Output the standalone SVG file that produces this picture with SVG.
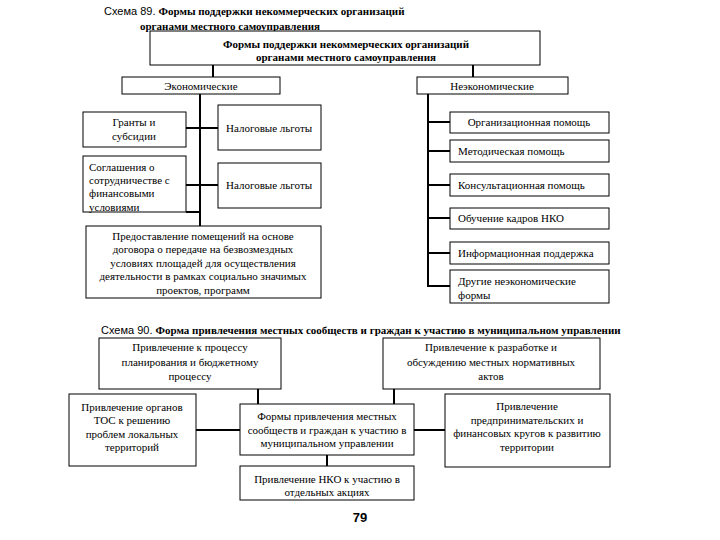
<svg xmlns="http://www.w3.org/2000/svg" width="720" height="540" viewBox="0 0 720 540">
<style>
.bg{fill:#fff}
.box{fill:#fff;stroke:#000;stroke-width:1}
.ln{stroke:#000;stroke-width:2;fill:none}
.t{font-family:"Liberation Serif","Times New Roman",serif;font-size:11px;fill:#000}
.c{text-anchor:middle}
.b{font-weight:bold}
.s{font-family:"Liberation Sans",Arial,sans-serif;font-size:11px;fill:#000}
</style>
<rect class="bg" x="0" y="0" width="720" height="540"/>

<g id="title89">
<text x="104" y="15"><tspan class="s">Схема 89. </tspan><tspan class="t b">Формы поддержки некоммерческих организаций</tspan></text>
<text class="t b" x="140" y="30">органами местного самоуправления</text>
</g>

<g id="connectors">
<line class="ln" x1="213" y1="65" x2="213" y2="77"/>
<line class="ln" x1="473" y1="65" x2="473" y2="77"/>
<line class="ln" x1="200" y1="94" x2="200" y2="226"/>
<line class="ln" x1="186" y1="128" x2="218" y2="128"/>
<line class="ln" x1="186" y1="185" x2="218" y2="185"/>
<line class="ln" x1="186" y1="212" x2="200" y2="212"/>
<line class="ln" x1="428" y1="94" x2="428" y2="287"/>
<line class="ln" x1="428" y1="122" x2="450" y2="122"/>
<line class="ln" x1="428" y1="151" x2="450" y2="151"/>
<line class="ln" x1="428" y1="185" x2="450" y2="185"/>
<line class="ln" x1="428" y1="218" x2="450" y2="218"/>
<line class="ln" x1="428" y1="253" x2="450" y2="253"/>
<line class="ln" x1="427" y1="286" x2="450" y2="286"/>
<line class="ln" x1="258" y1="389" x2="258" y2="404"/>
<line class="ln" x1="394" y1="389" x2="394" y2="404"/>
<line class="ln" x1="196" y1="430" x2="240" y2="430"/>
<line class="ln" x1="414" y1="430" x2="445" y2="430"/>
<line class="ln" x1="327" y1="455" x2="327" y2="466"/>
</g>

<g id="root89">
<rect class="box" x="150" y="31" width="390" height="34"/>
<text class="t b c" x="346" y="48">Формы поддержки некоммерческих организаций</text>
<text class="t b c" x="346" y="61">органами местного самоуправления</text>
</g>

<g id="econ">
<rect class="box" x="122" y="77" width="158" height="17"/>
<text class="t c" x="201" y="90">Экономические</text>
</g>
<g id="noneecon">
<rect class="box" x="417" y="77" width="151" height="17"/>
<text class="t c" x="492" y="90">Неэкономические</text>
</g>

<g id="grants">
<rect class="box" x="83" y="112" width="103" height="35"/>
<text class="t c" x="134" y="126">Гранты и</text>
<text class="t c" x="134" y="140">субсидии</text>
</g>
<g id="tax1">
<rect class="box" x="218" y="105" width="103" height="45"/>
<text class="t" x="226" y="132">Налоговые льготы</text>
</g>
<g id="agreements">
<rect class="box" x="83" y="156" width="103" height="56"/>
<text class="t" x="89" y="171">Соглашения о</text>
<text class="t" x="89" y="184">сотрудничестве с</text>
<text class="t" x="89" y="197">финансовыми</text>
<text class="t" x="89" y="211">условиями</text>
</g>
<g id="tax2">
<rect class="box" x="218" y="163" width="103" height="45"/>
<text class="t" x="226" y="189">Налоговые льготы</text>
</g>
<g id="premises">
<rect class="box" x="86" y="226" width="235" height="72"/>
<text class="t c" x="203" y="240">Предоставление помещений на основе</text>
<text class="t c" x="203" y="253">договора о передаче на безвозмездных</text>
<text class="t c" x="203" y="267">условиях площадей для осуществления</text>
<text class="t c" x="203" y="280">деятельности в рамках социально значимых</text>
<text class="t c" x="203" y="294">проектов, программ</text>
</g>

<g id="org">
<rect class="box" x="450" y="112" width="159" height="21"/>
<text class="t c" x="529" y="126">Организационная помощь</text>
</g>
<g id="method">
<rect class="box" x="450" y="140" width="159" height="22"/>
<text class="t" x="458" y="155">Методическая помощь</text>
</g>
<g id="consult">
<rect class="box" x="450" y="174" width="159" height="22"/>
<text class="t" x="458" y="189">Консультационная помощь</text>
</g>
<g id="training">
<rect class="box" x="450" y="208" width="159" height="21"/>
<text class="t" x="458" y="222">Обучение кадров НКО</text>
</g>
<g id="info">
<rect class="box" x="450" y="242" width="159" height="22"/>
<text class="t" x="458" y="257">Информационная поддержка</text>
</g>
<g id="other">
<rect class="box" x="450" y="270" width="159" height="33"/>
<text class="t" x="458" y="285">Другие неэкономические</text>
<text class="t" x="458" y="299">формы</text>
</g>

<g id="title90">
<text x="101" y="334"><tspan class="s">Схема 90. </tspan><tspan class="t b">Форма привлечения местных сообществ и граждан к участию в муниципальном управлении</tspan></text>
</g>

<g id="planning">
<rect class="box" x="99" y="338" width="182" height="51"/>
<text class="t c" x="190" y="351">Привлечение к процессу</text>
<text class="t c" x="190" y="366">планирования и бюджетному</text>
<text class="t c" x="190" y="380">процессу</text>
</g>
<g id="normative">
<rect class="box" x="383" y="338" width="217" height="51"/>
<text class="t c" x="491" y="351">Привлечение к разработке и</text>
<text class="t c" x="491" y="366">обсуждению местных нормативных</text>
<text class="t c" x="491" y="380">актов</text>
</g>
<g id="tos">
<rect class="box" x="69" y="394" width="127" height="72"/>
<text class="t c" x="132" y="411">Привлечение органов</text>
<text class="t c" x="132" y="424">ТОС к решению</text>
<text class="t c" x="132" y="438">проблем локальных</text>
<text class="t c" x="132" y="451">территорий</text>
</g>
<g id="forms">
<rect class="box" x="240" y="404" width="174" height="51"/>
<text class="t c" x="327" y="420">Формы привлечения местных</text>
<text class="t c" x="327" y="434">сообществ и граждан к участию в</text>
<text class="t c" x="327" y="447">муниципальном управлении</text>
</g>
<g id="business">
<rect class="box" x="445" y="394" width="165" height="73"/>
<text class="t c" x="527" y="410">Привлечение</text>
<text class="t c" x="527" y="424">предпринимательских и</text>
<text class="t c" x="527" y="437">финансовых кругов к развитию</text>
<text class="t c" x="527" y="451">территории</text>
</g>
<g id="nko">
<rect class="box" x="240" y="466" width="174" height="34"/>
<text class="t c" x="327" y="483">Привлечение НКО к участию в</text>
<text class="t c" x="327" y="496">отдельных акциях</text>
</g>

<text x="360" y="522" style="font-family:'Liberation Sans',Arial,sans-serif;font-size:13px;font-weight:bold;text-anchor:middle">79</text>
</svg>
